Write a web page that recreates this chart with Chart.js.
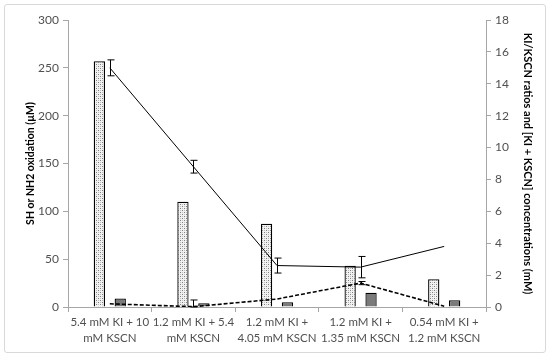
<!DOCTYPE html>
<html lang="en">
<head>
    <meta charset="UTF-8">
    <title>KI / KSCN oxidation chart</title>
    <script src="https://cdn.jsdelivr.net/npm/chart.js@4.4.1/dist/chart.umd.min.js"></script>
    <style>
        * { margin: 0; padding: 0; box-sizing: border-box; }
        body { background: #fff; width: 550px; height: 358px; overflow: hidden; }
        .frame {
            position: absolute;
            left: 4px; top: 4px; width: 542px; height: 349px;
            border: 1px solid #d9d9d9;
            border-radius: 3px;
        }
        .chart-box { position: absolute; left: 0; top: 0; width: 550px; height: 358px; }
    </style>
</head>
<body>
    <div class="frame"></div>
    <div class="chart-box"><canvas id="chart" width="550" height="358"></canvas></div>

    <script>
        // data
        const categories = [
            ['5.4 mM KI + 10', 'mM KSCN'],
            ['1.2 mM KI + 5.4', 'mM KSCN'],
            ['1.2 mM KI +', '4.05 mM KSCN'],
            ['1.2 mM KI +', '1.35 mM KSCN'],
            ['0.54 mM KI +', '1.2 mM KSCN']
        ];
        const shOxidation = [257, 110, 87, 43, 29];     // dotted bars, left axis (µM)
        const nh2Oxidation = [9, 4, 5, 15, 7];          // grey bars, left axis (µM)
        const concTotal = [15, 8.8, 2.6, 2.5, 3.8];     // solid line, right axis (mM)
        const concTotalErr = [0.5, 0.4, 0.47, 0.67, 0];
        const ratio = [0.2, 0.02, 0.5, 1.5, 0.05];      // dashed line, right axis
        const ratioErr = [0, 0.42, 0, 0.1, 0];
        const leftTicks = [0, 50, 100, 150, 200, 250, 300];
        const rightTicks = [0, 2, 4, 6, 8, 10, 12, 14, 16, 18];

        const textColor = '#505050';
        const axisColor = '#a6a6a6';

        // stippled fill like the original
        function dotPattern() {
            const c = document.createElement('canvas');
            c.width = 4; c.height = 4;
            const g = c.getContext('2d');
            g.fillStyle = '#f2f2f2';
            g.fillRect(0, 0, 4, 4);
            g.fillStyle = '#7f7f7f';
            g.fillRect(0, 0, 1, 1);
            g.fillRect(2, 2, 1, 1);
            g.fillStyle = '#bfbfbf';
            g.fillRect(2, 0, 1, 1);
            g.fillRect(0, 2, 1, 1);
            return g.createPattern(c, 'repeat');
        }

        // error bars for the line series
        const errorBars = {
            id: 'errorBars',
            afterDatasetsDraw(chart) {
                const ctx = chart.ctx;
                const xs = chart.scales.x;
                const ys = chart.scales.y1;
                ctx.save();
                ctx.strokeStyle = '#000';
                ctx.lineWidth = 1;
                chart.data.datasets.forEach(ds => {
                    if (!ds.errors) return;
                    ds.data.forEach((v, i) => {
                        const e = ds.errors[i];
                        if (!e) return;
                        const x = Math.round(xs.getPixelForValue(i)) + 0.5;
                        const top = ys.getPixelForValue(v + e);
                        const bot = ys.getPixelForValue(Math.max(0, v - e));
                        ctx.beginPath();
                        ctx.moveTo(x, top); ctx.lineTo(x, bot);
                        ctx.moveTo(x - 3, top); ctx.lineTo(x + 4, top);
                        ctx.moveTo(x - 3, bot); ctx.lineTo(x + 4, bot);
                        ctx.stroke();
                    });
                });
                ctx.restore();
            }
        };

        Chart.defaults.font.family = 'Lato, "Open Sans", sans-serif';
        Chart.defaults.color = textColor;

        new Chart(document.getElementById('chart'), {
            type: 'bar',
            data: {
                labels: categories,
                datasets: [{
                    type: 'line',
                    data: concTotal,
                    errors: concTotalErr,
                    yAxisID: 'y1',
                    borderColor: '#000',
                    borderWidth: 1,
                    pointRadius: 0,
                    order: 0
                }, {
                    type: 'line',
                    data: ratio,
                    errors: ratioErr,
                    yAxisID: 'y1',
                    borderColor: '#000',
                    borderWidth: 1.6,
                    borderDash: [4, 2],
                    pointRadius: 0,
                    order: 0
                }, {
                    data: shOxidation,
                    yAxisID: 'y',
                    backgroundColor: dotPattern(),
                    borderColor: '#000000',
                    borderWidth: 1.3,
                    categoryPercentage: 0.5,
                    barPercentage: 0.54,
                    order: 1
                }, {
                    data: nh2Oxidation,
                    yAxisID: 'y',
                    backgroundColor: '#7a7a7a',
                    borderColor: '#000000',
                    borderWidth: 1.3,
                    categoryPercentage: 0.5,
                    barPercentage: 0.54,
                    order: 1
                }]
            },
            options: {
                responsive: false,
                animation: false,
                layout: { padding: { top: 20, left: 5, right: 5, bottom: 7 } },
                plugins: {
                    legend: { display: false },
                    tooltip: { enabled: false }
                },
                scales: {
                    x: {
                        grid: {
                            drawOnChartArea: false,
                            drawTicks: true,
                            tickLength: 5,
                            color: axisColor
                        },
                        border: { color: axisColor },
                        ticks: { font: { size: 11.5, lineHeight: 1.35 }, padding: 3, maxRotation: 0, autoSkip: false },
                        afterFit: s => { s.height = 44; }
                    },
                    y: {
                        position: 'left',
                        min: 0,
                        max: 300,
                        afterBuildTicks: s => { s.ticks = leftTicks.map(v => ({ value: v })); },
                        grid: { drawOnChartArea: false, tickLength: 5, color: axisColor },
                        border: { color: axisColor },
                        ticks: { font: { size: 12 }, padding: 4 },
                        title: {
                            display: true,
                            text: 'SH or NH2 oxidation (µM)',
                            font: { size: 10.5, weight: 'bold' },
                            color: '#000',
                            padding: { top: 19, bottom: 0 }
                        },
                        afterFit: s => { s.width = 63; }
                    },
                    y1: {
                        position: 'right',
                        min: 0,
                        max: 18,
                        afterBuildTicks: s => { s.ticks = rightTicks.map(v => ({ value: v })); },
                        grid: { drawOnChartArea: false, tickLength: 5, color: axisColor },
                        border: { color: axisColor },
                        ticks: { font: { size: 12 }, padding: 4 },
                        title: {
                            display: true,
                            text: 'KI/KSCN ratios and [KI + KSCN] concentrations (mM)',
                            font: { size: 11, weight: 'bold' },
                            color: '#000',
                            padding: { top: 11, bottom: 0 }
                        },
                        afterFit: s => { s.width = 59; }
                    }
                }
            },
            plugins: [errorBars]
        });
    </script>
</body>
</html>
